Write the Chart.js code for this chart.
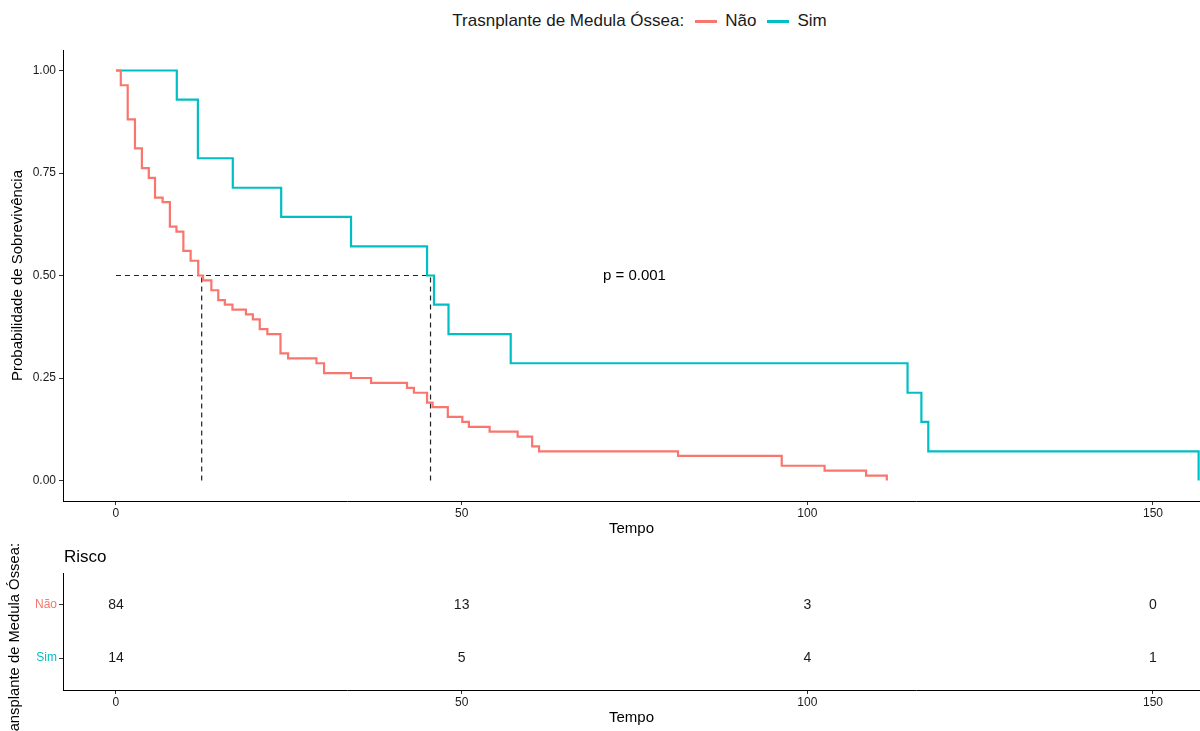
<!DOCTYPE html>
<html>
<head>
<meta charset="utf-8">
<script src="https://cdn.jsdelivr.net/npm/chart.js@4.4.0/dist/chart.umd.min.js"></script>
<style>
  body { margin: 0; background: #fff; font-family: 'Liberation Sans', Arial, sans-serif; }
  #wrap { position: relative; width: 1200px; height: 731px; overflow: hidden; }
  #legend { position: absolute; top: 11px; left: 0; width: 1279px; height: 20px; display: flex;
            justify-content: center; align-items: center; font-size: 17px; color: #1a1a1a; }
  #legend .key { display: inline-block; width: 22px; height: 3px; margin: 0 8px 0 11px; }
  #main { position: absolute; left: 0; top: 0; }
  #risk { position: absolute; left: 0; top: 540px; }
</style>
</head>
<body>
<div id="wrap">
  <div id="legend">
    <span>Trasnplante de Medula Óssea:</span>
    <span class="key" style="background:#F8766D"></span><span>Não</span>
    <span class="key" style="background:#00BFC4"></span><span>Sim</span>
  </div>
  <canvas id="main" width="1200" height="545"></canvas>
  <canvas id="risk" width="1200" height="191"></canvas>
</div>
<script>
// Kaplan-Meier steps
const naoTimes = [0, 0.7, 1.7, 2.75, 3.75, 4.75, 5.65, 6.75, 7.8, 8.75,
  9.75, 10.8, 11.9, 12.6, 13.8, 14.8, 15.75, 16.85, 18.8, 19.8,
  20.8, 21.9, 23.8, 24.9, 29.0, 30.1, 34.0, 36.9, 42.1, 43.1,
  45.0, 45.8, 48.0, 50.1, 51.05, 54.05, 58.1, 60.2, 61.2, 81.3,
  96.3, 102.5, 108.5, 111.5];
const naoSurv = [1.000, 0.964, 0.881, 0.810, 0.762, 0.738, 0.690, 0.679, 0.619, 0.607,
  0.560, 0.536, 0.500, 0.488, 0.464, 0.440, 0.429, 0.417, 0.405, 0.393,
  0.369, 0.357, 0.310, 0.298, 0.286, 0.262, 0.250, 0.238, 0.226, 0.214,
  0.190, 0.179, 0.155, 0.143, 0.131, 0.119, 0.107, 0.083, 0.071, 0.060,
  0.036, 0.024, 0.012, 0.000];

const simTimes = [0, 8.8, 11.85, 16.9, 23.9, 34.0, 45.0, 46.0, 48.1, 57.1, 114.5, 116.5, 117.5, 156.6];
const simSurv = [1.000, 0.929, 0.786, 0.714, 0.643, 0.571, 0.500, 0.429, 0.357, 0.286, 0.214, 0.143, 0.071, 0.000];

const medians = [12.4, 45.5];   // Não, Sim
const pValueText = 'p = 0.001';

const yTicks = [0, 0.25, 0.5, 0.75, 1];
const xTicks = [0, 50, 100, 150];

// risk table
const groups = ['Não', 'Sim'];
const groupColors = ['#F8766D', '#00BFC4'];
const riskTimes = [0, 50, 100, 150];
const riskNao = [84, 13, 3, 0];
const riskSim = [14, 5, 4, 1];

const toPts = (ts, vs) => ts.map((t, i) => ({ x: t, y: vs[i] }));
const ink = '#1a1a1a';
const font = "'Liberation Sans', Arial, sans-serif";
Chart.defaults.font.family = font;
Chart.defaults.color = ink;

const xAxis = (h, titlePad) => ({
  type: 'linear', min: -7.66, max: 156.8,
  afterBuildTicks: s => { s.ticks = xTicks.map(v => ({ value: v })); },
  afterFit: s => { s.height = h; },
  ticks: { color: ink, font: { size: 12 }, padding: 1, maxRotation: 0, autoSkip: false },
  grid: { drawOnChartArea: false, drawTicks: true, tickLength: 4, tickColor: '#333' },
  border: { color: '#000', width: 1 },
  title: { display: true, text: 'Tempo', color: '#000', font: { size: 15 }, padding: { top: 0, bottom: titlePad } }
});

const pLabel = {
  id: 'pLabel',
  afterDatasetsDraw(chart) {
    const { ctx, scales: { x, y } } = chart;
    ctx.save();
    ctx.font = '15px ' + font;
    ctx.fillStyle = '#000';
    ctx.textAlign = 'center';
    ctx.textBaseline = 'middle';
    ctx.fillText(pValueText, x.getPixelForValue(75), y.getPixelForValue(0.5));
    ctx.restore();
  }
};

const dash = { borderColor: '#222', borderWidth: 1.2, borderDash: [5, 4], pointRadius: 0, fill: false };

new Chart(document.getElementById('main'), {
  type: 'line',
  data: {
    datasets: [
      { label: 'Não', data: toPts(naoTimes, naoSurv), borderColor: groupColors[0], borderWidth: 2.2,
        stepped: 'before', pointRadius: 0, fill: false },
      { label: 'Sim', data: toPts(simTimes, simSurv), borderColor: groupColors[1], borderWidth: 2.2,
        stepped: 'before', pointRadius: 0, fill: false },
      Object.assign({ data: [{ x: 0, y: 0.5 }, { x: Math.max(...medians), y: 0.5 }] }, dash),
      Object.assign({ data: [{ x: medians[0], y: 0 }, { x: medians[0], y: 0.5 }] }, dash),
      Object.assign({ data: [{ x: medians[1], y: 0 }, { x: medians[1], y: 0.5 }] }, dash)
    ]
  },
  options: {
    responsive: false, animation: false,
    layout: { padding: { top: 50, right: 0, left: 0, bottom: 0 } },
    plugins: { legend: { display: false }, tooltip: { enabled: false } },
    scales: {
      x: xAxis(44, 7),
      y: {
        min: -0.05, max: 1.05,
        afterBuildTicks: s => { s.ticks = yTicks.map(v => ({ value: v })); },
        afterFit: s => { s.width = 63; },
        ticks: { color: ink, font: { size: 12 }, padding: 3, callback: v => v.toFixed(2) },
        grid: { drawOnChartArea: false, drawTicks: true, tickLength: 4, tickColor: '#333' },
        border: { color: '#000', width: 1 },
        title: { display: true, text: 'Probabilidade de Sobrevivência', color: '#000', font: { size: 15 },
                 padding: { top: 9, bottom: 0 } }
      }
    }
  },
  plugins: [pLabel]
});

const riskText = {
  id: 'riskText',
  afterDatasetsDraw(chart) {
    const { ctx, scales: { x, y } } = chart;
    const rows = [riskNao, riskSim];
    ctx.save();
    ctx.fillStyle = ink;
    ctx.font = '14px ' + font;
    ctx.textAlign = 'center';
    ctx.textBaseline = 'middle';
    rows.forEach((row, i) => {
      row.forEach((n, j) => {
        ctx.fillText(String(n), x.getPixelForValue(riskTimes[j]), y.getPixelForValue(groups.length - i));
      });
    });
    // table title
    ctx.fillStyle = '#000';
    ctx.font = '17px ' + font;
    ctx.textAlign = 'left';
    ctx.fillText('Risco', 64, 17);
    // y title, cut at the bottom like the original
    ctx.font = '14.8px ' + font;
    ctx.translate(15, 3);
    ctx.rotate(-Math.PI / 2);
    ctx.textAlign = 'left';
    ctx.textBaseline = 'middle';
    ctx.translate(-ctx.measureText('Transplante de Medula Óssea:').width, 0);
    ctx.fillText('Transplante de Medula Óssea:', 0, 0);
    ctx.restore();
  }
};

new Chart(document.getElementById('risk'), {
  type: 'scatter',
  data: { datasets: [] },
  options: {
    responsive: false, animation: false,
    layout: { padding: { top: 33, right: 0, left: 0, bottom: 0 } },
    plugins: { legend: { display: false }, tooltip: { enabled: false } },
    scales: {
      x: xAxis(41, 4),
      y: {
        type: 'linear', min: 0.4, max: 2.6,
        afterBuildTicks: s => { s.ticks = groups.map((g, i) => ({ value: groups.length - i })); },
        afterFit: s => { s.width = 63; },
        ticks: {
          font: { size: 12 }, padding: 2,
          callback: v => groups[groups.length - v],
          color: c => groupColors[groups.length - c.tick.value]
        },
        grid: { drawOnChartArea: false, drawTicks: true, tickLength: 4, tickColor: '#333' },
        border: { color: '#000', width: 1 }
      }
    }
  },
  plugins: [riskText]
});
</script>
</body>
</html>
